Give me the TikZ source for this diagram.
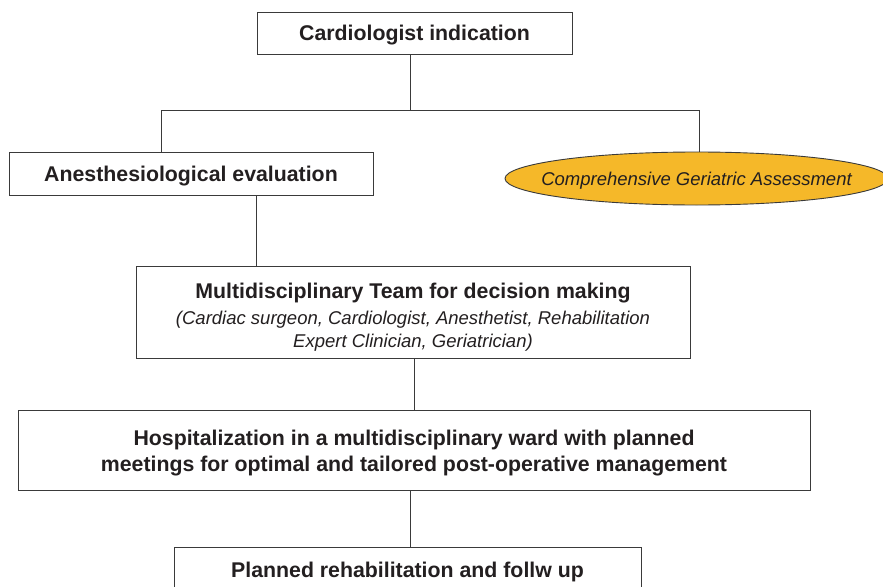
\documentclass[tikz,border=0pt]{standalone}
\usepackage{fontspec}
\setmainfont{Liberation Sans}
\usetikzlibrary{shapes.geometric,backgrounds}
\definecolor{ink}{HTML}{231F20}
\definecolor{linec}{HTML}{3A3A3A}
\definecolor{cgafill}{HTML}{F5B829}
\newcommand\btf{\fontsize{21.3}{26}\selectfont\upshape\bfseries}
\newcommand\itf{\fontsize{18.5}{23}\selectfont\itshape}
\begin{document}
\begin{tikzpicture}[x=1pt,y=-1pt,
  box/.style={draw=linec, line width=0.9pt, fill=white, inner sep=0pt, align=center, text=ink, text depth=0pt},
  conn/.style={draw=linec, line width=0.9pt},
  txt/.style={inner sep=0pt, align=center, text=ink, text depth=0pt},
  bt/.style={font=\btf},
  it/.style={font=\itf}]
\useasboundingbox (0,0) rectangle (883,586);
\clip (0,0) rectangle (883,586);
\fill[white] (0,0) rectangle (883,586);

\node[box,bt,minimum width=315pt,minimum height=42pt] (ci) at (414.5,33) {Cardiologist indication};
\node[box,bt,minimum width=364pt,minimum height=43pt] (ae) at (191,173.5) {Anesthesiological evaluation};
\node[box,ellipse,fill=cgafill,minimum width=383pt,minimum height=53pt] (cga) at (696.5,178.5) {};
\node[txt,it] (cgatext) at (cga.center) {Comprehensive Geriatric Assessment};
\node[box,minimum width=554pt,minimum height=92pt] (mdt) at (413,312) {};
\node[txt,font=\itf] (mdttext) at (413,315.5)
  {{\btf Multidisciplinary Team for decision making}\\[3pt]
   (Cardiac surgeon, Cardiologist, Anesthetist, Rehabilitation\\
   Expert Clinician, Geriatrician)};
\node[box,bt,minimum width=792pt,minimum height=80pt] (hosp) at (414,450.5)
  {Hospitalization in a multidisciplinary ward with planned\\meetings for optimal and tailored post-operative management};
\node[box,bt,minimum width=467pt,minimum height=46pt] (reh) at (407.5,570) {Planned rehabilitation and follw up};

\coordinate (j) at (410,110);
\coordinate (jl) at (161,110);
\coordinate (jr) at (699,110);
\coordinate (xa) at (256,0);
\coordinate (xc) at (621,0);
\coordinate (xm) at (414,0);

\draw[conn] (ci.south -| j) -- (j);
\draw[conn] (jl) -- (jr);
\draw[conn] (jl) -- (ae.north -| jl);
\draw[conn] (jr) -- (cga.north -| jr);
\draw[conn] (ae.south -| xa) -- (mdt.north -| xa);
\begin{scope}[on background layer]
  \draw[conn] (mdt.north -| xc) -- (cga.center -| xc);
\end{scope}
\draw[conn] (mdt.south -| xm) -- (hosp.north -| xm);
\draw[conn] (hosp.south -| j) -- (reh.north -| j);
\end{tikzpicture}
\end{document}
